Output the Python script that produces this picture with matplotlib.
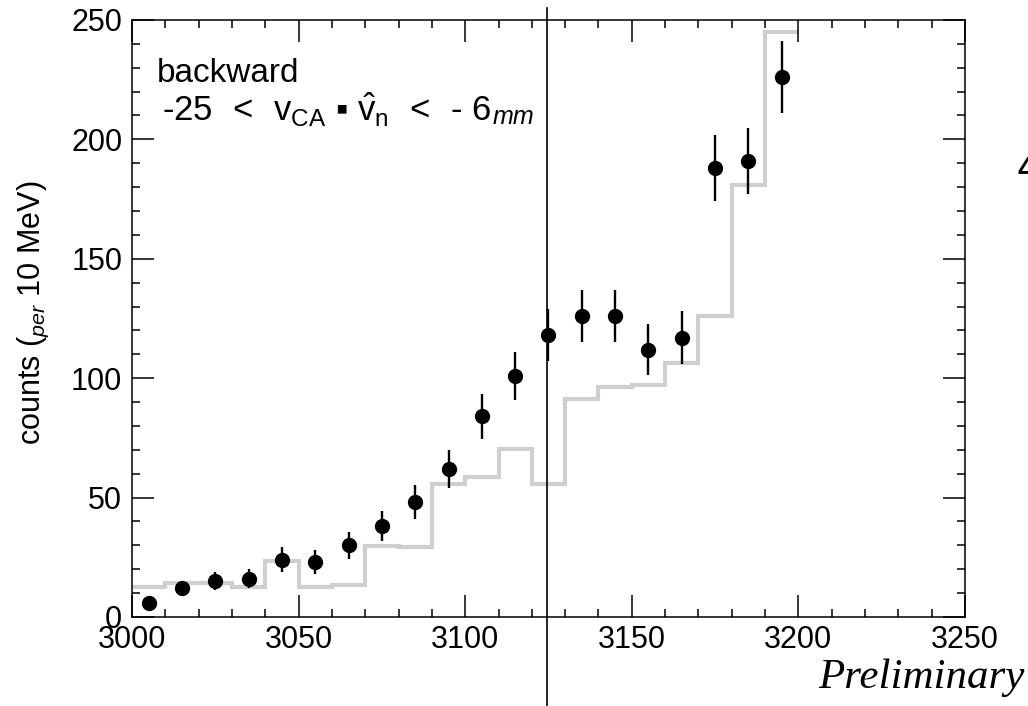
import numpy as np
import matplotlib
matplotlib.use("Agg")
import matplotlib.pyplot as plt
from matplotlib.ticker import MultipleLocator

# measured points (bin centres, 10 MeV bins)
mass = [3005, 3015, 3025, 3035, 3045, 3055, 3065, 3075, 3085, 3095,
        3105, 3115, 3125, 3135, 3145, 3155, 3165, 3175, 3185, 3195]
counts = [6, 12, 15, 16, 24, 23, 30, 38, 48, 62,
          84, 101, 118, 126, 126, 112, 117, 188, 191, 226]
errors = [2.5, 3.1, 3.8, 4.0, 5.1, 5.1, 5.7, 6.2, 7.1, 8.0,
          9.3, 10.0, 11.0, 11.0, 11.0, 10.8, 11.0, 13.8, 13.8, 15.0]

# grey reference histogram
edges = [3000, 3010, 3020, 3030, 3040, 3050, 3060, 3070, 3080, 3090, 3100,
         3110, 3120, 3130, 3140, 3150, 3160, 3170, 3180, 3190, 3200]
ref = [12.6, 14.2, 14.2, 12.6, 23.5, 12.6, 13.4, 29.7, 29.3, 55.7,
       58.6, 70.3, 55.7, 91.3, 96.3, 97.2, 106.4, 126, 181, 245]

cut_x = 3124.5

plt.rcParams['font.family'] = ['Liberation Sans', 'DejaVu Sans']
plt.rcParams['mathtext.fontset'] = 'custom'
plt.rcParams['mathtext.rm'] = 'Liberation Sans'
plt.rcParams['mathtext.it'] = 'Liberation Sans:italic'

fig = plt.figure(figsize=(10.28, 7.06), dpi=100)
ax = fig.add_axes([0.1284, 0.1261, 0.8103, 0.8456])

ax.stairs(ref, edges, baseline=None, color='#cfcfcf', lw=3)
ax.errorbar(mass, counts, yerr=errors, fmt='o', color='black', ms=10,
            elinewidth=1.7, capsize=0)

ax.axvline(cut_x, ymin=-0.16, ymax=1.02, color='black', lw=1.2, clip_on=False)

ax.set_xlim(3000, 3250)
ax.set_ylim(0, 250)
ax.xaxis.set_major_locator(MultipleLocator(50))
ax.xaxis.set_minor_locator(MultipleLocator(10))
ax.yaxis.set_major_locator(MultipleLocator(50))
ax.yaxis.set_minor_locator(MultipleLocator(10))
ax.tick_params(which='both', direction='in', top=True, right=True, width=1.1,
               labelsize=22)
ax.tick_params(axis='x', pad=6)
ax.tick_params(axis='y', pad=7)
ax.tick_params(which='major', length=16)
ax.tick_params(which='minor', length=5.5)
for s in ax.spines.values():
    s.set_linewidth(1.1)

ax.text(-0.118, 0.51, r'counts ($_{\it per}$ 10 MeV)', transform=ax.transAxes,
        rotation=90, ha='center', va='center', fontsize=22,
        family=['Liberation Sans Narrow', 'Liberation Sans'])

ax.text(0.03, 0.896, 'backward', transform=ax.transAxes, fontsize=24)
t = ax.text(0.036, 0.83,
            r'-25 $\,<\,$ v$_{\rm CA}$ ▪ $\hat{\rm v}_{\rm n}$ $\,<\,$ - 6 ',
            transform=ax.transAxes, fontsize=25)
ax.annotate('mm', xy=(1, 0), xycoords=t, va='bottom', fontsize=18, style='italic')

fig.text(0.997, 0.026, 'Preliminary', ha='right', va='baseline', fontsize=31,
         style='italic', family=['Liberation Serif', 'DejaVu Serif'])
fig.text(1017 / 1028, 1 - 171 / 706, '4', fontsize=22, fontweight='bold', va='center')

fig.savefig('out.png', dpi=100)
